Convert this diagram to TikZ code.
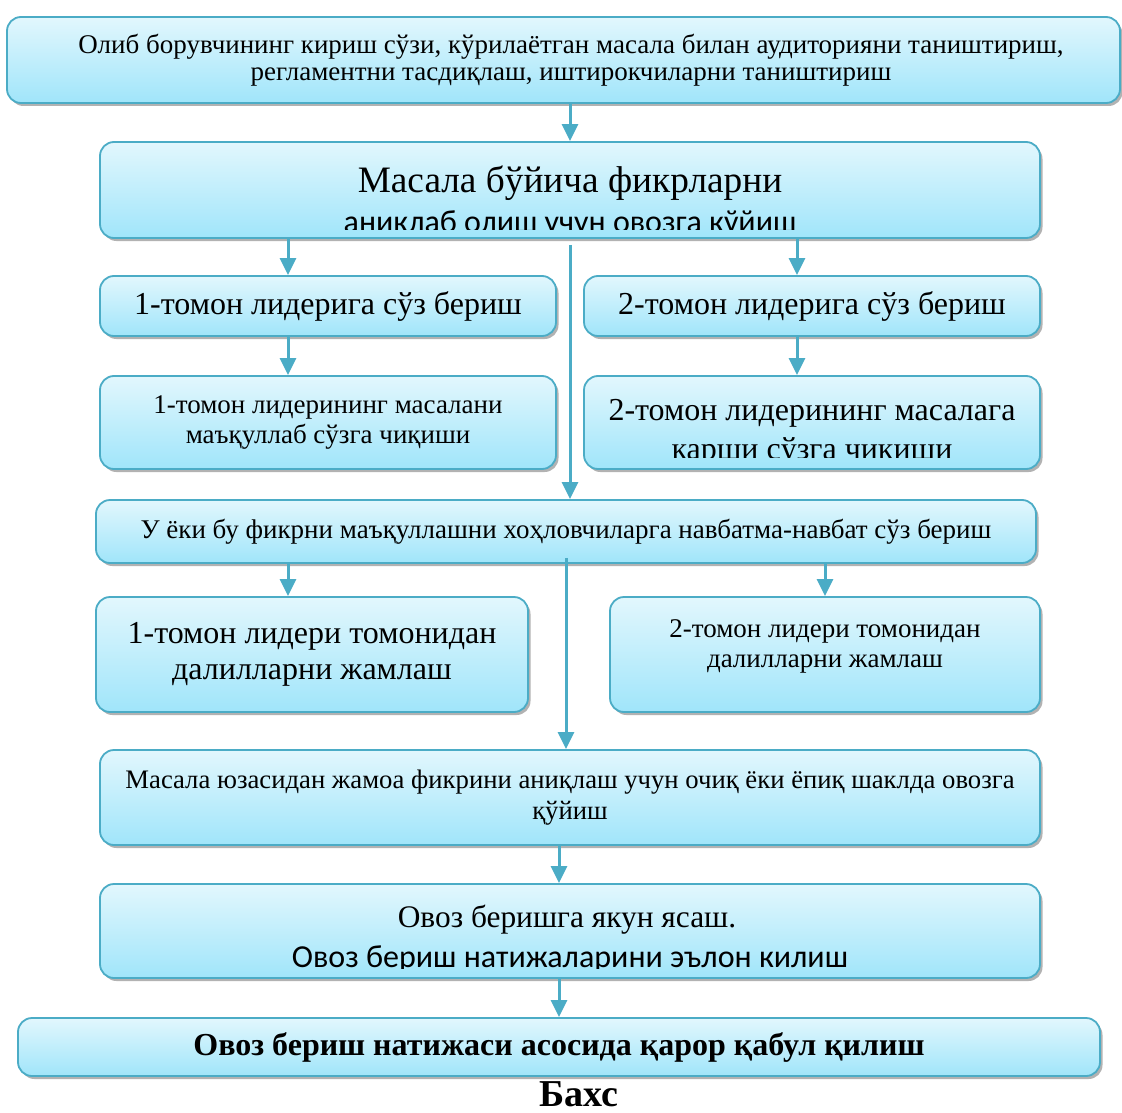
\documentclass[tikz,border=0pt]{standalone}
\usepackage{fontspec}
\setmainfont{Liberation Serif}
\newfontfamily\calib{Carlito}
\usetikzlibrary{arrows.meta,shadows,calc}
\definecolor{bordc}{RGB}{75,172,198}
\definecolor{topc}{RGB}{226,247,253}
\definecolor{botc}{RGB}{160,229,250}
\newcommand{\fsl}[2]{\fontsize{#1}{#2}\selectfont}
\tikzset{
  box/.style={draw=bordc, line width=1.8pt, rounded corners=14pt,
    top color=topc, bottom color=botc,
    drop shadow={shadow xshift=2.5pt, shadow yshift=-3pt, fill=black!50, opacity=.6},
    inner sep=0pt, align=flush center},
  conn/.style={draw=bordc, line width=3pt, -{Triangle[width=16pt,length=17pt]}},
  txt/.style={inner sep=0pt, anchor=base},
}
\begin{document}
\begin{tikzpicture}[x=1pt,y=-1pt]
\useasboundingbox[fill=white] (0,0) rectangle (1122,1113);

% boxes
\node[box, minimum width=1113pt, minimum height=86pt, text width=1100pt, font=\fsl{27}{27}] (b1) at (563.5,60)
  {\hspace*{15pt}Олиб борувчининг кириш сўзи, кўрилаётган масала билан аудиторияни таништириш,\\\hspace*{15pt}регламентни тасдиқлаш, иштирокчиларни таништириш};
\node[box, minimum width=940pt, minimum height=96pt] (b2) at (570,190) {};
\node[box, minimum width=456pt, minimum height=60pt, font=\fsl{32}{36}] (b3l) at (328,306) {1-томон лидерига сўз бериш};
\node[box, minimum width=456pt, minimum height=60pt, font=\fsl{32}{36}] (b3r) at (812,306) {2-томон лидерига сўз бериш};
\node[box, minimum width=456pt, minimum height=93pt, text width=440pt, font=\fsl{27}{30}] (b4l) at (328,422.5)
  {1-томон лидерининг масалани\\маъқуллаб сўзга чиқиши};
\node[box, minimum width=456pt, minimum height=93pt] (b4r) at (812,422.5) {};
\node[box, minimum width=940pt, minimum height=63pt, font=\fsl{27}{30}] (b5) at (566,531.5)
  {У ёки бу фикрни маъқуллашни хоҳловчиларга навбатма-навбат сўз бериш};
\node[box, minimum width=432pt, minimum height=115pt, text width=420pt, font=\fsl{32}{36}] (b6l) at (312,654.5)
  {1-томон лидери томонидан\\далилларни жамлаш};
\node[box, minimum width=430pt, minimum height=115pt] (b6r) at (825,654.5) {};
\node[box, minimum width=940pt, minimum height=95pt, text width=920pt, font=\fsl{26.7}{31}] (b7) at (570,797.5)
  {Масала юзасидан жамоа фикрини аниқлаш учун очиқ ёки ёпиқ шаклда овозга\\қўйиш};
\node[box, minimum width=940pt, minimum height=94pt] (b8) at (570,931) {};
\node[box, minimum width=1082pt, minimum height=58pt, font=\bfseries\fsl{32}{36}] (b9) at (559,1047)
  {Овоз бериш натижаси асосида қарор қабул қилиш};

% texts placed inside boxes
\node[txt, font=\fsl{37.3}{42}] (b2t1) at (570,192) {Масала бўйича фикрларни};
\begin{scope}
  \clip ([yshift=9pt]b2.south west) rectangle (b2.north east);
  \node[txt, font=\calib\fsl{32}{36}] (b2t2) at (570,232) {аниклаб олиш учун овозга кўйиш};
\end{scope}
\node[txt, font=\fsl{32}{36}] (b4rt1) at (812,420) {2-томон лидерининг масалага};
\begin{scope}
  \clip ([yshift=12pt]b4r.south west) rectangle (b4r.north east);
  \node[txt, font=\fsl{32}{36}] (b4rt2) at (812,459) {карши сўзга чикиши};
\end{scope}
\node[txt, font=\fsl{27}{30}] (b6rt1) at (825,637) {2-томон лидери томонидан};
\node[txt, font=\fsl{27}{30}] (b6rt2) at (825,667) {далилларни жамлаш};
\node[txt, font=\fsl{31.4}{36}] (b8t1) at (567,927) {Овоз беришга якун ясаш.};
\begin{scope}
  \clip ([yshift=10pt]b8.south west) rectangle (b8.north east);
  \node[txt, font=\calib\fsl{32}{36}] (b8t2) at (570,967) {Овоз бериш натижаларини эълон килиш};
\end{scope}
\node[txt, font=\bfseries\fsl{38}{42}] (title) at (579,1106) {Бахс};

% connectors
\draw[conn] (b2.north |- b1.south) -- (b2.north);
\draw[conn] ([xshift=-40pt]b3l.north |- b2.south) -- ([xshift=-40pt]b3l.north);
\draw[conn] ([xshift=-15pt]b3r.north |- b2.south) -- ([xshift=-15pt]b3r.north);
\draw[conn] ([yshift=-6pt]b2.south) -- (b2.south |- b5.north);
\draw[conn] ([xshift=-40pt]b3l.south) -- ([xshift=-40pt]b4l.north);
\draw[conn] ([xshift=-15pt]b3r.south) -- ([xshift=-15pt]b4r.north);
\draw[conn] ([xshift=-24pt]b6l.north |- b5.south) -- ([xshift=-24pt]b6l.north);
\draw[conn] (b6r.north |- b5.south) -- (b6r.north);
\draw[conn] ([yshift=6pt]b5.south) -- (b5.south |- b7.north);
\draw[conn] (b9.north |- b7.south) -- (b9.north |- b8.north);
\draw[conn] (b9.north |- b8.south) -- (b9.north);
\end{tikzpicture}
\end{document}
